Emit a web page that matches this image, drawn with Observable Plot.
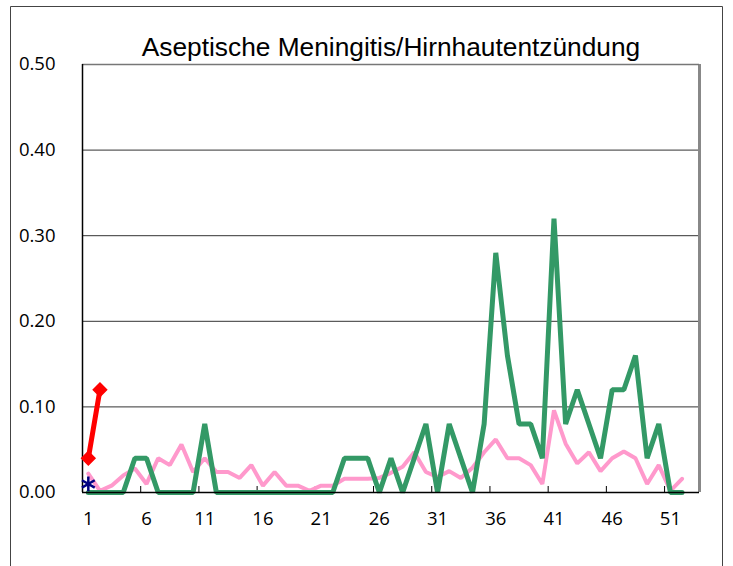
<!DOCTYPE html>
<html><head><meta charset="utf-8">
<script src="https://cdn.jsdelivr.net/npm/d3@7"></script>
<script src="https://cdn.jsdelivr.net/npm/@observablehq/plot@0.6"></script>
<style>body{margin:0;background:#fff} #chart{position:relative;width:733px;height:566px}</style>
</head><body><div id="chart"></div>
<script>
const title = "Aseptische Meningitis/Hirnhautentzündung";
const weeks = d3.range(1, 53);
const greenValues = [0,0,0,0,0.04,0.04,0,0,0,0,0.08,0,0,0,0,0,0,0,0,0,0,0,0.04,0.04,0.04,0,0.04,0,0.04,0.08,0,0.08,0.04,0,0.08,0.28,0.16,0.08,0.08,0.04,0.32,0.08,0.12,0.08,0.04,0.12,0.12,0.16,0.04,0.08,0,0];
const pinkValues = [0.022,0.002,0.008,0.02,0.028,0.01,0.04,0.032,0.056,0.024,0.04,0.024,0.024,0.017,0.032,0.008,0.024,0.008,0.008,0.002,0.008,0.008,0.016,0.016,0.016,0.017,0.023,0.03,0.047,0.024,0.018,0.025,0.017,0.029,0.047,0.062,0.04,0.04,0.032,0.01,0.096,0.057,0.034,0.047,0.025,0.04,0.048,0.04,0.01,0.032,0.002,0.016];
const redWeeks = [1, 2];
const redValues = [0.04, 0.12];
const blueWeeks = [1];
const blueValues = [0.01];
const xTickLabels = [1, 6, 11, 16, 21, 26, 31, 36, 41, 46, 51];
const xTickMarks = [5.5, 10.5, 15.5, 20.5, 25.5, 30.5, 35.5, 40.5, 45.5, 50.5];
const yTicks = [0, 0.1, 0.2, 0.3, 0.4, 0.5];

const green = weeks.map((w, i) => ({week: w, value: greenValues[i]}));
const pink = weeks.map((w, i) => ({week: w, value: pinkValues[i]}));
const red = redWeeks.map((w, i) => ({week: w, value: redValues[i]}));
const blue = blueWeeks.map((w, i) => ({week: w, value: blueValues[i]}));

const tickFont = {fontFamily: "Open Sans", fontWeight: 400, fontSize: 18.5};

const plot = Plot.plot({
  width: 733, height: 566,
  marginLeft: 82, marginRight: 34, marginTop: 64, marginBottom: 74,
  style: {fontFamily: "Open Sans", fontSize: "18px", color: "#000", background: "#fff"},
  x: {domain: [0.5, 53.5], axis: null, label: null},
  y: {domain: [0, 0.5], axis: null, label: null},
  marks: [
    Plot.ruleY(yTicks.filter(d => d > 0), {stroke: "#333", strokeWidth: 1, strokeOpacity: 1}),
    Plot.ruleX([53.5], {stroke: "#888", strokeWidth: 3}),
    Plot.ruleY([0.5], {stroke: "#777", strokeWidth: 1.5}),
    Plot.ruleX(xTickMarks, {y1: 0, y2: 0.007, stroke: "#000", strokeWidth: 1}),
    Plot.axisY({ticks: yTicks, tickSize: 0, tickPadding: 27, tickFormat: d3.format(".2f"), label: null, ...tickFont}),
    Plot.axisX({ticks: xTickLabels, tickSize: 0, tickPadding: 19, tickFormat: d => String(d), label: null, ...tickFont}),
    Plot.line(pink, {x: "week", y: "value", stroke: "#FF99CC", strokeWidth: 4, strokeLinejoin: "miter"}),
    Plot.line(green, {x: "week", y: "value", stroke: "#339966", strokeWidth: 5, strokeLinejoin: "miter"}),
    Plot.ruleX([0.5], {stroke: "#000", strokeWidth: 1.5}),
    Plot.ruleY([0], {stroke: "#000", strokeWidth: 1.5}),
    Plot.line(red, {x: "week", y: "value", stroke: "#FF0000", strokeWidth: 5}),
    Plot.dot(red, {x: "week", y: "value", symbol: "diamond2", fill: "#FF0000", stroke: "#FF0000", r: 6}),
    Plot.dot(blue, {x: "week", y: "value", symbol: "asterisk", stroke: "#000080", strokeWidth: 2.5, r: 7}),
    Plot.text([title], {frameAnchor: "top", dy: -17, lineAnchor: "middle", fontFamily: "Liberation Sans", fontSize: 26.3, fill: "#000"})
  ]
});
document.getElementById("chart").appendChild(plot);
d3.select(plot).append("path")
  .attr("d", "M10.5,566V6.5H722.5V566")
  .attr("fill", "none").attr("stroke", "#444").attr("stroke-width", 1);
</script>
</body></html>
